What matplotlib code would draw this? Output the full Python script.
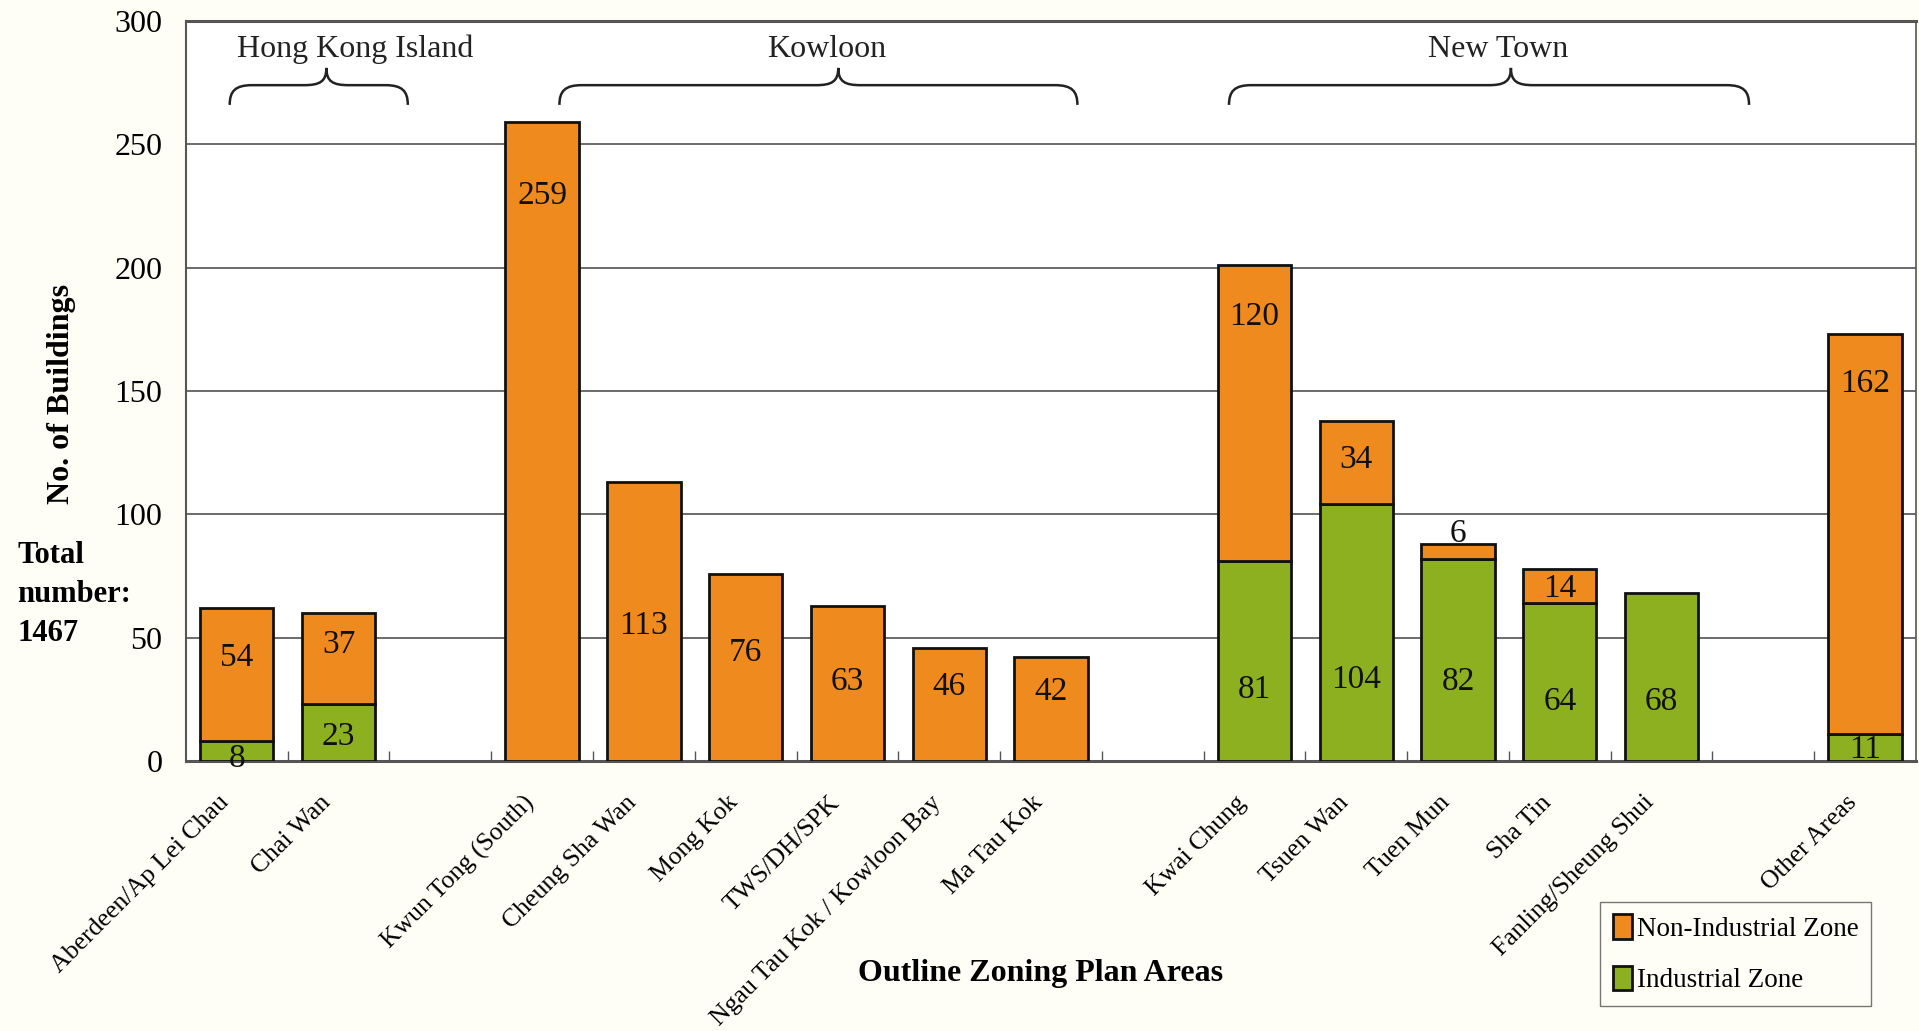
import matplotlib
matplotlib.use("Agg")
import matplotlib.pyplot as plt
import matplotlib.transforms as mtransforms
from matplotlib.path import Path
from matplotlib.patches import PathPatch, Patch
import numpy as np

plt.rcParams['font.family'] = ['Liberation Serif', 'DejaVu Serif']

# Datos (slots vacios = separadores entre grupos)
areas = ["Aberdeen/Ap Lei Chau", "Chai Wan", "",
         "Kwun Tong (South)", "Cheung Sha Wan", "Mong Kok", "TWS/DH/SPK",
         "Ngau Tau Kok / Kowloon Bay", "Ma Tau Kok", "",
         "Kwai Chung", "Tsuen Wan", "Tuen Mun", "Sha Tin", "Fanling/Sheung Shui", "",
         "Other Areas"]
industrial = [8, 23, 0, 0, 0, 0, 0, 0, 0, 0, 81, 104, 82, 64, 68, 0, 11]
non_industrial = [54, 37, 0, 259, 113, 76, 63, 46, 42, 0, 120, 34, 6, 14, 0, 0, 162]

# Altura de las etiquetas
non_label_y = [42, 47, None, 229, 55, 44, 32, 30, 28, None, 180, 122, 92, 70, None, None, 153]
ind_label_y = [1, 10, None, None, None, None, None, None, None, None, 29, 33, 32, 24, 24, None, 4.5]

groups = ["Hong Kong Island", "Kowloon", "New Town"]
group_brace = [(-0.07, 1.68, 0.88), (3.17, 8.26, 5.91), (9.75, 14.86, 12.52)]
group_text_x = [1.16, 5.8, 12.39]

ORANGE = "#ef8a1f"
GREEN = "#8db021"
BG = "#fefef7"

fig = plt.figure(figsize=(19.19, 10.31), dpi=100, facecolor=BG)
ax = fig.add_axes([0.0969, 0.2619, 0.9015, 0.7177])
ax.set_facecolor("white")

x = np.arange(len(areas))
ind = np.array(industrial)
non = np.array(non_industrial)
width = 0.72

mask_i = ind > 0
mask_n = non > 0
ax.bar(x[mask_i], ind[mask_i], width, color=GREEN, edgecolor="#111111", linewidth=2, zorder=3)
ax.bar(x[mask_n], non[mask_n], width, bottom=ind[mask_n], color=ORANGE,
       edgecolor="#111111", linewidth=2, zorder=3)

# Etiquetas de valor
for i in range(len(areas)):
    if non_label_y[i] is not None:
        ax.text(x[i], non_label_y[i], str(non[i]), ha="center", va="center",
                fontsize=24, zorder=5, color="#111111")
    if ind_label_y[i] is not None:
        ax.text(x[i], ind_label_y[i], str(ind[i]), ha="center", va="center",
                fontsize=24, zorder=5, color="#111111")

ax.set_xlim(-0.5, len(areas) - 0.5)
ax.set_ylim(0, 300)
ax.set_yticks(np.arange(0, 301, 50))
ax.tick_params(axis="y", length=0, pad=17, labelsize=23)
ax.yaxis.grid(True, color="#444444", linewidth=1.1, zorder=0)
ax.set_axisbelow(True)

# Ticks en los limites de cada slot
ax.set_xticks(x[1:] - 0.5, minor=True)
ax.tick_params(axis="x", which="minor", direction="in", length=7, width=1, color="#555555")
lab_idx = [i for i, a in enumerate(areas) if a]
ax.set_xticks(x[lab_idx])
ax.set_xticklabels([areas[i] for i in lab_idx], rotation=45, ha="right",
                   rotation_mode="anchor", fontsize=18.5)
ax.tick_params(axis="x", which="major", length=0, pad=22)
shift = mtransforms.ScaledTranslation(-0.19, 0.0, fig.dpi_scale_trans)
for lbl in ax.get_xticklabels():
    lbl.set_transform(lbl.get_transform() + shift)

for s in ax.spines.values():
    s.set_color("#555555")
    s.set_linewidth(1.2)
ax.spines["bottom"].set_linewidth(2.2)
ax.spines["top"].set_linewidth(2.2)
ax.spines["left"].set_linewidth(1.5)


def brace(ax, x0, x1, xt, y_end=266, y_flat=274, y_tip=281, w=0.22):
    verts = [
        (x0, y_end),
        (x0, y_end + 0.7 * (y_flat - y_end)), (x0 + 0.25 * w, y_flat), (x0 + w, y_flat),
        (xt - w, y_flat),
        (xt - 0.3 * w, y_flat), (xt, y_flat + 0.2 * (y_tip - y_flat)), (xt, y_tip),
        (xt, y_flat + 0.2 * (y_tip - y_flat)), (xt + 0.3 * w, y_flat), (xt + w, y_flat),
        (x1 - w, y_flat),
        (x1 - 0.25 * w, y_flat), (x1, y_end + 0.7 * (y_flat - y_end)), (x1, y_end),
    ]
    codes = [Path.MOVETO,
             Path.CURVE4, Path.CURVE4, Path.CURVE4,
             Path.LINETO,
             Path.CURVE4, Path.CURVE4, Path.CURVE4,
             Path.CURVE4, Path.CURVE4, Path.CURVE4,
             Path.LINETO,
             Path.CURVE4, Path.CURVE4, Path.CURVE4]
    ax.add_patch(PathPatch(Path(verts, codes), facecolor="none", edgecolor="#222222",
                           linewidth=1.8, zorder=4))


for name, (b0, b1, bt), tx in zip(groups, group_brace, group_text_x):
    brace(ax, b0, b1, bt)
    ax.text(tx, 288.5, name, ha="center", va="center", fontsize=23, color="#222222")

# Titulos de ejes
fig.text(0.032, 0.618, "No. of Buildings", rotation=90, ha="center", va="center",
         fontsize=23, fontweight="bold")
fig.text(0.542, 0.056, "Outline Zoning Plan Areas", ha="center", va="center",
         fontsize=23, fontweight="bold")
fig.text(0.009, 0.423, "Total\nnumber:\n1467", ha="left", va="center",
         fontsize=22, fontweight="bold", linespacing=1.45)

# Leyenda
handles = [Patch(facecolor=ORANGE, edgecolor="#111111", linewidth=2, label="Non-Industrial Zone"),
           Patch(facecolor=GREEN, edgecolor="#111111", linewidth=2, label="Industrial Zone")]
leg = fig.legend(handles=handles, loc="upper left", bbox_to_anchor=(0.834, 0.125),
                 fontsize=19.5, frameon=True, fancybox=False, handlelength=0.7,
                 handleheight=1.0, handletextpad=0.2, labelspacing=0.9,
                 borderpad=0.45, borderaxespad=0)
leg.get_frame().set_edgecolor("#555555")
leg.get_frame().set_linewidth(1.0)
leg.get_frame().set_facecolor(BG)

fig.savefig("out.png", dpi=100, facecolor=BG)
